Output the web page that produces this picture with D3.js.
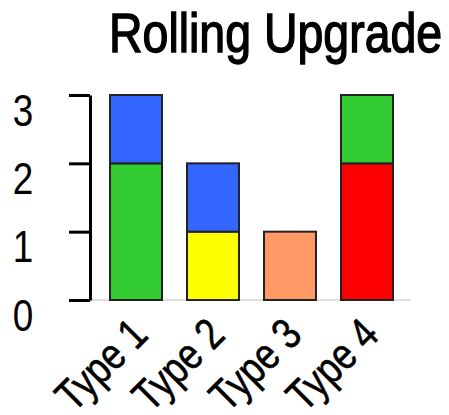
<!DOCTYPE html>
<html>
<head>
<meta charset="utf-8">
<script src="https://cdn.jsdelivr.net/npm/d3@7"></script>
<style>
  html, body { margin: 0; padding: 0; background: #fff; }
  svg text { font-family: "Liberation Sans", Arial, sans-serif; fill: #000; stroke: #000; stroke-width: 0; }
</style>
</head>
<body>
<svg id="chart" width="449" height="415"></svg>
<script>
// Upgrade stages per node type: lower segment and upper segment
const categories = ["Type 1", "Type 2", "Type 3", "Type 4"];
const lowerValues = [2, 1, 1, 2];
const lowerColors = ["#33cc33", "#ffff00", "#ff9966", "#ff0000"];
const upperValues = [1, 1, 0, 1];
const upperColors = ["#3366ff", "#3366ff", "#3366ff", "#33cc33"];
const yTicks = [0, 1, 2, 3];

// condensed look for all labels
const NARROW = 0.82;

const svg = d3.select("#chart");

const x = d3.scaleBand()
  .domain(categories)
  .range([92, 411])
  .paddingInner(0.325)
  .paddingOuter(0.234);

const y = d3.scaleLinear()
  .domain([0, 3])
  .range([300, 95]);

// light baseline
svg.append("line")
  .attr("x1", 90).attr("x2", 411)
  .attr("y1", y(0)).attr("y2", y(0))
  .attr("stroke", "#e0e0e0").attr("stroke-width", 2);

// stacked bars: two segments per category
const rows = categories.map((c, i) => ({
  c, lo: lowerValues[i], hi: upperValues[i], loC: lowerColors[i], hiC: upperColors[i]
}));

const g = svg.append("g");
rows.forEach(r => {
  g.append("rect")
    .attr("x", x(r.c)).attr("width", x.bandwidth())
    .attr("y", y(r.lo)).attr("height", y(0) - y(r.lo))
    .attr("fill", r.loC).attr("stroke", "#222").attr("stroke-width", 2);
  if (r.hi > 0) {
    g.append("rect")
      .attr("x", x(r.c)).attr("width", x.bandwidth())
      .attr("y", y(r.lo + r.hi)).attr("height", y(r.lo) - y(r.lo + r.hi))
      .attr("fill", r.hiC).attr("stroke", "#222").attr("stroke-width", 2);
  }
});

// y axis
const yAxis = svg.append("g")
  .attr("transform", "translate(90,0)")
  .call(d3.axisLeft(y).tickValues(yTicks).tickFormat(d3.format("d")).tickSize(21).tickSizeOuter(0));
yAxis.select(".domain").attr("stroke", "#000").attr("stroke-width", 3);
yAxis.selectAll(".tick line").attr("stroke", "#000").attr("stroke-width", 3);
yAxis.selectAll(".tick text")
  .attr("x", 0)
  .attr("dy", null)
  .attr("text-anchor", "middle")
  .attr("transform", `translate(-67,30) scale(${NARROW},1)`)
  .style("font-size", "45px");

// x axis labels, rotated
const xAxis = svg.append("g")
  .attr("transform", `translate(0,${y(0)})`)
  .call(d3.axisBottom(x).tickSize(0));
xAxis.select(".domain").remove();
xAxis.selectAll(".tick text")
  .attr("text-anchor", "end")
  .attr("dy", null)
  .attr("y", 0)
  .attr("transform", `translate(14,37) rotate(-45) scale(${NARROW},1)`)
  .style("font-size", "44px")
  .style("stroke-width", "0.6px");

// title
svg.append("text")
  .attr("transform", "translate(109,52) scale(0.845,1)")
  .style("font-size", "55px")
  .style("stroke-width", "1.4px")
  .text("Rolling Upgrade");
</script>
</body>
</html>
